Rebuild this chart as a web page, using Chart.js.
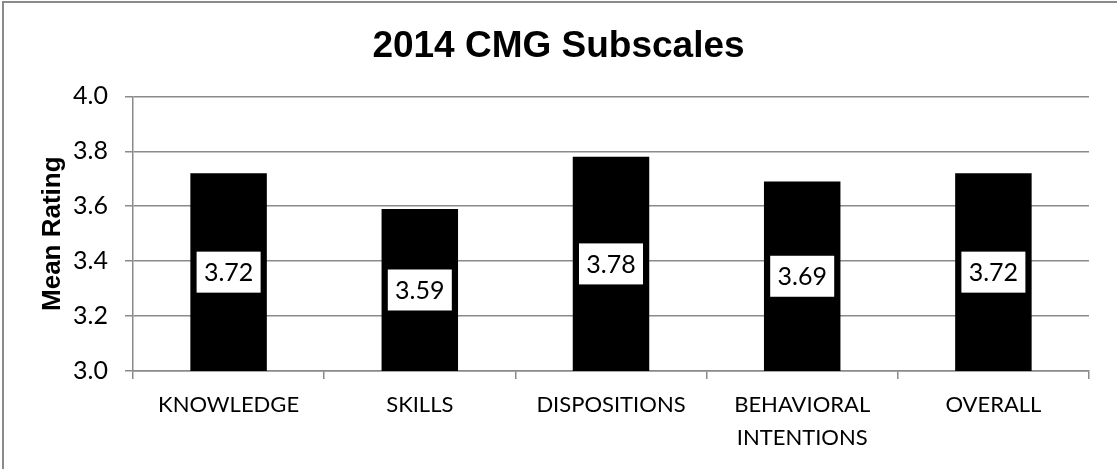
<!DOCTYPE html>
<html>
<head>
<meta charset="utf-8">
<script src="https://cdn.jsdelivr.net/npm/chart.js@4"></script>
<style>
  html, body { margin: 0; padding: 0; background: #fff; overflow: hidden; }
  #wrap { position: relative; width: 1117px; height: 469px; }
  #frame { position: absolute; left: 2px; top: 1px; width: 1140px; height: 500px; border: 2px solid #8a8a8a; pointer-events: none; }
</style>
</head>
<body>
<div id="wrap">
  <canvas id="chart" width="1117" height="469"></canvas>
  <div id="frame"></div>
</div>
<script>
// chart data
const categories = ['KNOWLEDGE', 'SKILLS', 'DISPOSITIONS', ['BEHAVIORAL', 'INTENTIONS'], 'OVERALL'];
const meanRatings = [3.72, 3.59, 3.78, 3.69, 3.72];
const yTicks = [3.0, 3.2, 3.4, 3.6, 3.8, 4.0];

const gridGray = '#8a8a8a';
const bodyFont = 'Lato, Carlito, sans-serif';

// white boxed value labels, centred in each bar
const boxLabels = {
  id: 'boxLabels',
  afterDatasetsDraw(chart) {
    const ctx = chart.ctx;
    const xs = chart.scales.x;
    const ys = chart.scales.y;
    const base = ys.getPixelForValue(ys.min);
    ctx.save();
    ctx.font = '25px ' + bodyFont;
    ctx.textAlign = 'center';
    ctx.textBaseline = 'middle';
    meanRatings.forEach((v, i) => {
      const cx = xs.getPixelForValue(i);
      const cy = (ys.getPixelForValue(v) + base) / 2;
      const w = 64, h = 41;
      ctx.fillStyle = '#fff';
      ctx.fillRect(cx - w / 2, cy - h / 2, w, h);
      ctx.fillStyle = '#000';
      ctx.fillText(v.toFixed(2), cx, cy + 1);
    });
    ctx.restore();
  }
};

new Chart(document.getElementById('chart'), {
  type: 'bar',
  data: {
    labels: categories,
    datasets: [{
      data: meanRatings,
      backgroundColor: '#000',
      borderWidth: 0,
      barPercentage: 0.4,
      categoryPercentage: 1
    }]
  },
  options: {
    responsive: false,
    animation: false,
    layout: { padding: { top: 0, right: 28, bottom: 0, left: 28 } },
    plugins: {
      legend: { display: false },
      tooltip: { enabled: false },
      title: {
        display: true,
        text: '2014 CMG Subscales',
        color: '#000',
        font: { family: 'Liberation Sans, Arial, sans-serif', size: 37, weight: 'bold', lineHeight: 1.2 },
        padding: { top: 25, bottom: 27 }
      }
    },
    scales: {
      x: {
        grid: { display: true, drawOnChartArea: false, drawTicks: true, tickLength: 8, color: gridGray, lineWidth: 1.5 },
        border: { display: true, color: gridGray, width: 1.5 },
        ticks: { color: '#000', font: { family: bodyFont, size: 22, lineHeight: 1.5 }, padding: 9, maxRotation: 0, autoSkip: false },
        afterFit(scale) { scale.height = 98; }
      },
      y: {
        min: 3.0,
        max: 4.0,
        afterBuildTicks(scale) { scale.ticks = yTicks.map(v => ({ value: v })); },
        grid: { color: gridGray, lineWidth: 1.5, tickLength: 8 },
        border: { display: true, color: gridGray, width: 1.5 },
        ticks: { color: '#000', font: { family: bodyFont, size: 25 }, padding: 17, callback: v => v.toFixed(1) },
        title: {
          display: true,
          text: 'Mean Rating',
          color: '#000',
          font: { family: 'Liberation Sans, Arial, sans-serif', size: 26, weight: 'bold', lineHeight: 1.2 },
          padding: { top: 9, bottom: 0 }
        },
        afterFit(scale) { scale.width = 105; }
      }
    }
  },
  plugins: [boxLabels]
});
</script>
</body>
</html>
